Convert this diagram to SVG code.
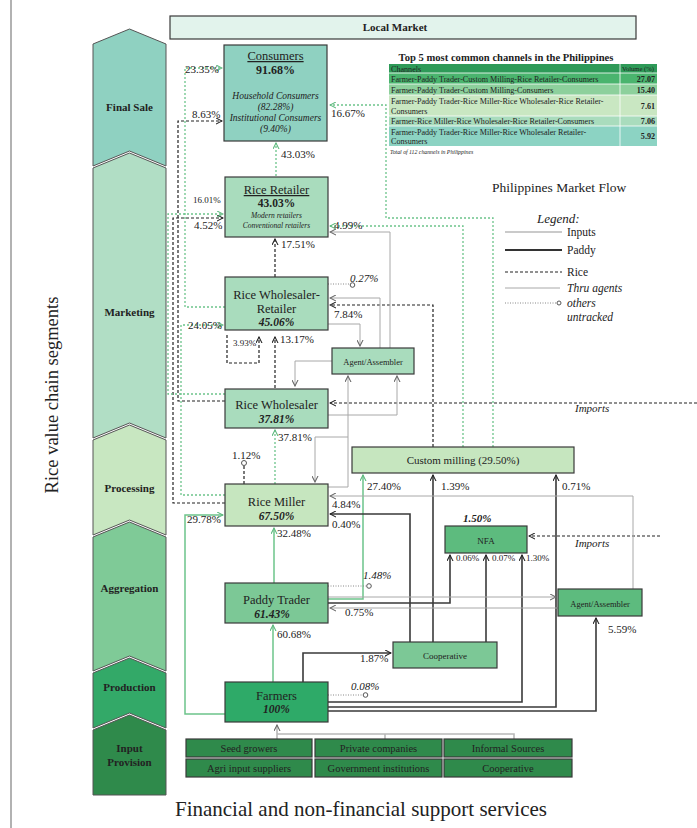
<svg xmlns="http://www.w3.org/2000/svg" width="697" height="828" viewBox="0 0 697 828">
<defs>
<style>
text{font-family:"Liberation Serif","Times New Roman",serif;fill:#222}
.b{font-weight:bold}
.i{font-style:italic}
.bi{font-weight:bold;font-style:italic}
.c{text-anchor:middle}
.lab{font-size:11px}
.sm{font-size:9px}
.box{stroke:#3a3a3a;stroke-width:1.2}
.chev{stroke:#555;stroke-width:1}
.rice{fill:none;stroke:#222;stroke-width:1.2;stroke-dasharray:3,2}
.gd{fill:none;stroke:#6cc48a;stroke-width:1.3;stroke-dasharray:2,2}
.gs{fill:none;stroke:#6cc48a;stroke-width:1.5}
.pad{fill:none;stroke:#3a3a3a;stroke-width:1.6}
.ag{fill:none;stroke:#a8a8a8;stroke-width:1}
.inp{fill:none;stroke:#b8b8b8;stroke-width:1.6}
.un{fill:none;stroke:#888;stroke-width:1;stroke-dasharray:1,1.5}
.dot{fill:#fff;stroke:#555;stroke-width:1}
.tb{font-size:8.1px}
</style>
<marker id="aK" viewBox="0 0 8 8" refX="7" refY="4" markerWidth="7" markerHeight="7" markerUnits="userSpaceOnUse" orient="auto"><path d="M0,0.5 L7,4 L0,7.5" fill="none" stroke="#222" stroke-width="1.2"/></marker>
<marker id="aG" viewBox="0 0 8 8" refX="7" refY="4" markerWidth="7" markerHeight="7" markerUnits="userSpaceOnUse" orient="auto"><path d="M0,0.5 L7,4 L0,7.5" fill="none" stroke="#5cb87c" stroke-width="1.2"/></marker>
<marker id="aA" viewBox="0 0 8 8" refX="7" refY="4" markerWidth="7" markerHeight="7" markerUnits="userSpaceOnUse" orient="auto"><path d="M0,0.5 L7,4 L0,7.5" fill="none" stroke="#666" stroke-width="1.2"/></marker>
</defs>
<rect width="697" height="828" fill="#fff"/>
<line x1="11" y1="0" x2="11" y2="828" stroke="#999" stroke-width="1.5"/>

<g id="segments">
<polygon class="chev" fill="#8fd1c1" points="93,44 129.5,29 166,44 166,166 129.5,151 93,166"/>
<polygon class="chev" fill="#b1dec5" points="93,168 129.5,153 166,168 166,438 129.5,423 93,438"/>
<polygon class="chev" fill="#c8e7c1" points="93,440 129.5,425 166,440 166,535 129.5,520 93,535"/>
<polygon class="chev" fill="#7fca97" points="93,537 129.5,522 166,537 166,671 129.5,656 93,671"/>
<polygon class="chev" fill="#33a968" points="93,673 129.5,658 166,673 166,728 129.5,713 93,728"/>
<polygon class="chev" fill="#2f8a4b" points="93,730 129.5,715 166,730 166,795 93,795"/>
<text class="b c" x="129.5" y="111" font-size="11">Final Sale</text>
<text class="b c" x="129.5" y="316" font-size="11">Marketing</text>
<text class="b c" x="129.5" y="492" font-size="11">Processing</text>
<text class="b c" x="129.5" y="592" font-size="11">Aggregation</text>
<text class="b c" x="129.5" y="691" font-size="11">Production</text>
<text class="b c" x="129.5" y="752" font-size="11">Input</text>
<text class="b c" x="129.5" y="766" font-size="11">Provision</text>
</g>
<text class="c" transform="translate(58,395) rotate(-90)" font-size="18.5">Rice value chain segments</text>

<g id="local-market">
<rect class="box" x="170" y="16" width="466" height="23" fill="#e2f3ec"/>
<text class="b c" x="395" y="31" font-size="11">Local Market</text>
</g>

<g id="connectors">
<path class="rice" d="M275,277 V239" marker-end="url(#aK)"/>
<path class="rice" d="M275,388 V337" marker-end="url(#aK)"/>
<path class="rice" d="M227,335 V363 H259 V337" marker-end="url(#aK)"/>
<path class="rice" d="M244,484 V466"/>
<path class="rice" d="M225,401 H178 V121 H222" marker-end="url(#aK)"/>
<path class="rice" d="M225,503 H173 V218 H223" marker-end="url(#aK)"/>
<path class="rice" d="M433,447 V305 H330" marker-end="url(#aK)"/>
<path class="rice" d="M697,403 H330" marker-end="url(#aK)"/>
<path class="rice" d="M660,536 H529" marker-end="url(#aK)"/>
<path class="gd" d="M276,176 V143" marker-end="url(#aG)"/>
<path class="gd" d="M275,484 V430" marker-end="url(#aG)"/>
<path class="gd" d="M493,447 V218 H386 V105 H330" marker-end="url(#aG)"/>
<path class="gd" d="M463,447 V226 H330" marker-end="url(#aG)"/>
<path class="gd" d="M225,307 H185 V68 H222" marker-end="url(#aG)"/>
<path class="gd" d="M225,394 H168 V214 H223" marker-end="url(#aG)"/>
<path class="gd" d="M225,495 H181 V325 H223" marker-end="url(#aG)"/>
<path class="gs" d="M273,682 V625" marker-end="url(#aG)"/>
<path class="gs" d="M274,583 V528" marker-end="url(#aG)"/>
<path class="gs" d="M225,714 H185 V515 H223" marker-end="url(#aG)"/>
<path class="gs" d="M328,599 H363 V475" marker-end="url(#aG)"/>
<path class="pad" d="M303,682 V653 H391" marker-end="url(#aK)"/>
<path class="pad" d="M433,642 V475" marker-end="url(#aK)"/>
<path class="pad" d="M410,642 V514 H330" marker-end="url(#aK)"/>
<path class="pad" d="M486,642 V555" marker-end="url(#aK)"/>
<path class="pad" d="M328,603 H450 V555" marker-end="url(#aK)"/>
<path class="pad" d="M328,702 H522 V555" marker-end="url(#aK)"/>
<path class="pad" d="M328,707 H556 V475" marker-end="url(#aK)"/>
<path class="pad" d="M328,711 H596 V618" marker-end="url(#aK)"/>
<path class="ag" d="M328,324 H360 V346" marker-end="url(#aA)"/>
<path class="ag" d="M332,361 H295 V386" marker-end="url(#aA)"/>
<path class="ag" d="M328,415 H397 V376" marker-end="url(#aA)"/>
<path class="ag" d="M328,487 H348 V376" marker-end="url(#aA)"/>
<path class="ag" d="M348,437 H315 V482" marker-end="url(#aA)"/>
<path class="ag" d="M390,348 V232 H330" marker-end="url(#aA)"/>
<path class="ag" d="M380,348 V298 H330" marker-end="url(#aA)"/>
<path class="ag" d="M633,589 V496 H330" marker-end="url(#aA)"/>
<path class="ag" d="M328,597 H556" marker-end="url(#aA)"/>
<path class="ag" d="M558,608 H330" marker-end="url(#aA)"/>
<path class="inp" d="M277,739 V725" marker-end="url(#aA)"/>
<path class="inp" d="M277,734 H514 V739 M385,734 V739"/>
<path class="un" d="M328,284 H350"/>
<circle class="dot" cx="352.5" cy="285" r="2.3"/>
<path class="un" d="M328,586 H366"/>
<circle class="dot" cx="369" cy="586" r="2.3"/>
<path class="un" d="M328,695 H363"/>
<circle class="dot" cx="365.5" cy="695" r="2.3"/>
<circle class="dot" cx="244" cy="463" r="2.5"/>
</g>

<g id="consumers">
<rect class="box" x="224" y="45" width="103" height="96" fill="#8fd1c1"/>
<text class="c" x="275.5" y="60" font-size="12.5" text-decoration="underline">Consumers</text>
<text class="b c" x="275.5" y="74" font-size="12">91.68%</text>
<text class="i c" x="275.5" y="99" font-size="9.5">Household Consumers</text>
<text class="i c" x="275.5" y="110" font-size="9.5">(82.28%)</text>
<text class="i c" x="275.5" y="121" font-size="9.5">Institutional Consumers</text>
<text class="i c" x="275.5" y="132" font-size="9.5">(9.40%)</text>
</g>

<g id="rice-retailer">
<rect class="box" x="225" y="177" width="103" height="60" fill="#a9dcbd"/>
<text class="c" x="276.5" y="194" font-size="12.5" text-decoration="underline">Rice Retailer</text>
<text class="b c" x="276.5" y="207" font-size="11.5">43.03%</text>
<text class="i c" x="276.5" y="218" font-size="7.5">Modern retailers</text>
<text class="i c" x="276.5" y="228" font-size="7.5">Conventional retailers</text>
</g>

<g id="rice-wholesaler-retailer">
<rect class="box" x="225" y="277" width="103" height="53" fill="#a9dcbd"/>
<text class="c" x="276.5" y="299" font-size="12.5">Rice Wholesaler-</text>
<text class="c" x="276.5" y="313" font-size="12.5">Retailer</text>
<text class="bi c" x="276.5" y="326" font-size="11.5">45.06%</text>
</g>

<g id="agent-upper">
<rect class="box" x="332" y="348" width="82" height="26" fill="#a9dcbd"/>
<text class="c" x="373" y="365" font-size="8.5">Agent/Assembler</text>
</g>

<g id="rice-wholesaler">
<rect class="box" x="225" y="389" width="103" height="39" fill="#a9dcbd"/>
<text class="c" x="276.5" y="409" font-size="12.5">Rice Wholesaler</text>
<text class="bi c" x="276.5" y="423" font-size="11.5">37.81%</text>
</g>

<g id="custom-milling">
<rect class="box" x="352" y="447" width="222" height="26" fill="#c6e6bf"/>
<text class="c" x="463" y="464" font-size="11">Custom milling (29.50%)</text>
</g>

<g id="rice-miller">
<rect class="box" x="225" y="484" width="103" height="42" fill="#c6e6bf"/>
<text class="c" x="276.5" y="506" font-size="12.5">Rice Miller</text>
<text class="bi c" x="276.5" y="520" font-size="11.5">67.50%</text>
</g>

<g id="nfa">
<rect class="box" x="445" y="526" width="82" height="27" fill="#5dbb7e"/>
<text class="c" x="486" y="544" font-size="9">NFA</text>
</g>

<g id="paddy-trader">
<rect class="box" x="225" y="583" width="103" height="40" fill="#7cc896"/>
<text class="c" x="276.5" y="604" font-size="12.5">Paddy Trader</text>
<text class="bi c" x="272" y="618" font-size="11.5">61.43%</text>
</g>

<g id="agent-lower">
<rect class="box" x="558" y="589" width="84" height="27" fill="#5dbb7e"/>
<text class="c" x="600" y="607" font-size="8.5">Agent/Assembler</text>
</g>

<g id="cooperative">
<rect class="box" x="393" y="642" width="104" height="26" fill="#7cc896"/>
<text class="c" x="445" y="659" font-size="9">Cooperative</text>
</g>

<g id="farmers">
<rect class="box" x="225" y="682" width="103" height="40" fill="#2eaa68"/>
<text class="c" x="276.5" y="700" font-size="12.5">Farmers</text>
<text class="bi c" x="276.5" y="713" font-size="11.5">100%</text>
</g>

<g id="inputs">
<rect class="box" x="186" y="739" width="126" height="18" fill="#2f8a4b"/>
<rect class="box" x="315" y="739" width="127" height="18" fill="#2f8a4b"/>
<rect class="box" x="444" y="739" width="128" height="18" fill="#2f8a4b"/>
<rect class="box" x="186" y="759" width="126" height="18" fill="#2f8a4b"/>
<rect class="box" x="315" y="759" width="127" height="18" fill="#2f8a4b"/>
<rect class="box" x="444" y="759" width="128" height="18" fill="#2f8a4b"/>
<text class="c" x="249" y="752" font-size="10.5">Seed growers</text>
<text class="c" x="378.5" y="752" font-size="10.5">Private companies</text>
<text class="c" x="508" y="752" font-size="10.5">Informal Sources</text>
<text class="c" x="249" y="772" font-size="10.5">Agri input suppliers</text>
<text class="c" x="378.5" y="772" font-size="10.5">Government institutions</text>
<text class="c" x="508" y="772" font-size="10.5">Cooperative</text>
</g>

<g id="labels">
<text class="lab" x="185" y="73">23.35%</text>
<text class="lab" x="192" y="118">8.63%</text>
<text class="lab" x="331" y="117">16.67%</text>
<text class="lab" x="281" y="158">43.03%</text>
<text class="sm" x="193" y="203">16.01%</text>
<text class="lab" x="194" y="229">4.52%</text>
<text class="lab" x="334" y="229">4.99%</text>
<text class="lab" x="281" y="248">17.51%</text>
<text class="lab i" x="350" y="282">0.27%</text>
<text class="lab" x="334" y="318">7.84%</text>
<text class="lab" x="188" y="329">24.05%</text>
<text class="sm" x="233" y="346">3.93%</text>
<text class="lab" x="280" y="343">13.17%</text>
<text class="lab i" x="575" y="412">Imports</text>
<text class="lab" x="278" y="441">37.81%</text>
<text class="lab" x="232" y="459">1.12%</text>
<text class="lab" x="367" y="490">27.40%</text>
<text class="lab" x="441" y="490">1.39%</text>
<text class="lab" x="562" y="490">0.71%</text>
<text class="lab" x="332" y="508">4.84%</text>
<text class="lab" x="332" y="528">0.40%</text>
<text class="lab" x="187" y="523">29.78%</text>
<text class="lab" x="277" y="537">32.48%</text>
<text class="lab bi" x="463" y="522">1.50%</text>
<text class="sm" x="456" y="561">0.06%</text>
<text class="sm" x="492" y="561">0.07%</text>
<text class="sm" x="526" y="561">1.30%</text>
<text class="lab i" x="575" y="547">Imports</text>
<text class="lab i" x="363" y="579">1.48%</text>
<text class="lab" x="345" y="616">0.75%</text>
<text class="lab" x="608" y="633">5.59%</text>
<text class="lab" x="277" y="638">60.68%</text>
<text class="lab" x="360" y="662">1.87%</text>
<text class="lab i" x="351" y="690">0.08%</text>
</g>

<g id="top5-table">
<text class="b c" x="506" y="61" font-size="10.6">Top 5 most common channels in the Philippines</text>
<rect x="389" y="64" width="268" height="9" fill="#2e9a58"/>
<rect x="389" y="73" width="268" height="11" fill="#4ab46e"/>
<rect x="389" y="84" width="268" height="11" fill="#8dd09c"/>
<rect x="389" y="95" width="268" height="21" fill="#c9e7c2"/>
<rect x="389" y="116" width="268" height="10" fill="#a9dcbd"/>
<rect x="389" y="126" width="268" height="20" fill="#8cd3c3"/>
<path d="M389,73 H657 M389,84 H657 M389,95 H657 M389,116 H657 M389,126 H657 M620,64 V146" stroke="#fff" stroke-width="0.8"/>
<text class="tb" x="391" y="71.5">Channels</text>
<text x="622" y="71" font-size="6.6">Volume (%)</text>
<text class="tb" x="391" y="81.5">Farmer-Paddy Trader-Custom Milling-Rice Retailer-Consumers</text>
<text class="tb" x="391" y="92.5">Farmer-Paddy Trader-Custom Milling-Consumers</text>
<text class="tb" x="391" y="104">Farmer-Paddy Trader-Rice Miller-Rice Wholesaler-Rice Retailer-</text>
<text class="tb" x="391" y="114">Consumers</text>
<text class="tb" x="391" y="123.5">Farmer-Rice Miller-Rice Wholesaler-Rice Retailer-Consumers</text>
<text class="tb" x="391" y="135">Farmer-Paddy Trader-Rice Miller-Rice Wholesaler Retailer-</text>
<text class="tb" x="391" y="144">Consumers</text>
<text class="tb b" x="655" y="81.5" text-anchor="end">27.07</text>
<text class="tb b" x="655" y="92.5" text-anchor="end">15.40</text>
<text class="tb b" x="655" y="108.5" text-anchor="end">7.61</text>
<text class="tb b" x="655" y="124" text-anchor="end">7.06</text>
<text class="tb b" x="655" y="139" text-anchor="end">5.92</text>
<text class="i" x="390" y="154" font-size="5.8">Total of 112 channels in Philippines</text>
</g>

<g id="legend">
<text x="492" y="192" font-size="13.5">Philippines Market Flow</text>
<text class="i" x="537" y="223" font-size="13">Legend:</text>
<path class="inp" d="M505,232 H562"/>
<path d="M505,250 H562" stroke="#333" stroke-width="1.8"/>
<path class="rice" d="M505,272 H562"/>
<path class="ag" d="M505,288 H560"/>
<path class="un" d="M505,303 H557"/>
<circle class="dot" cx="559" cy="303" r="2"/>
<text x="567" y="236" font-size="11.5">Inputs</text>
<text x="567" y="254" font-size="11.5">Paddy</text>
<text x="567" y="276" font-size="11.5">Rice</text>
<text class="i" x="567" y="292" font-size="11.5">Thru agents</text>
<text class="i" x="567" y="307" font-size="11.5">others</text>
<text class="i" x="567" y="321" font-size="11.5">untracked</text>
</g>

<text class="c" x="361" y="816" font-size="21">Financial and non-financial support services</text>
</svg>
